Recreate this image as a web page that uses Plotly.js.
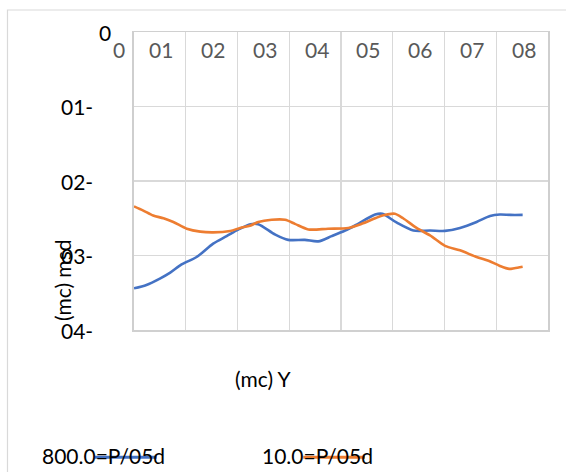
<!DOCTYPE html>
<html><head><meta charset="utf-8">
<script src="https://cdn.plot.ly/plotly-3.0.1.min.js"></script>
<style>html,body{margin:0;padding:0;background:#fff}#chart{width:566px;height:472px}</style>
</head><body><div id="chart"></div>
<script>
const xTickVals=[0,10,20,30,40,50,60,70,80];
const xTickText=["0","01","02","03","04","05","06","07","08"];
const yTickVals=[0,-10,-20,-30,-40];
const yTickText=["0","01-","02-","03-","04-"];
const xTitle="(mc) Y";
const yTitle="(mc) msd";
const seriesNames=["800.0=P/05d","10.0=P/05d"];
const blueX=[0,2.4,5.0,7.0,9.2,12.1,15.3,17.9,20.2,22.5,24.0,27.3,29.8,33.0,35.6,38.2,40.8,43.3,46.6,48.0,50.8,54.0,57.2,60.1,63.0,66.2,68.8,70.7,72.7,75.1];
const blueY=[-34.4,-33.95,-33.1,-32.3,-31.2,-30.2,-28.4,-27.4,-26.5,-25.8,-25.8,-27.2,-27.9,-27.9,-28.1,-27.4,-26.65,-25.75,-24.5,-24.4,-25.6,-26.65,-26.65,-26.7,-26.3,-25.5,-24.7,-24.5,-24.55,-24.55];
const orangeX=[0,1.8,3.7,5.7,7.6,10.2,12.8,15.3,18.6,20.5,22.4,24.0,26.6,29.2,31.1,33.7,37.5,41.4,44.0,46.6,48.2,50.4,52.0,54.6,57.2,60.1,63.0,66.2,68.5,70.7,72.5,73.5,75.1];
const orangeY=[-23.4,-23.97,-24.64,-25.0,-25.5,-26.4,-26.8,-26.9,-26.7,-26.3,-26.0,-25.5,-25.2,-25.2,-25.75,-26.5,-26.4,-26.3,-25.75,-25.0,-24.6,-24.4,-25.0,-26.3,-27.3,-28.7,-29.3,-30.2,-30.7,-31.4,-31.8,-31.7,-31.5];

const colors=['#4472C4','#ED7D31'];
const FONT='Lato, "Open Sans", sans-serif';
const FS=21;
// plot area in pixels
const L=134, R=548, T=32, B=330;
const px2x=p=>(p-L)/(R-L);
const px2y=p=>(B-p)/(B-T);

const traces=[
 {x:blueX,y:blueY,name:seriesNames[0],type:'scatter',mode:'lines',line:{color:colors[0],width:2.6,shape:'spline',smoothing:0.8},showlegend:false},
 {x:orangeX,y:orangeY,name:seriesNames[1],type:'scatter',mode:'lines',line:{color:colors[1],width:2.6,shape:'spline',smoothing:0.8},showlegend:false}
];

const ann=[];
xTickVals.forEach((v,i)=>{
  ann.push({xref:'x',yref:'paper',x: i===0? v : (xTickVals[i-1]+v)/2, xshift: i===0? -15 : 1.5,
    y:1,yshift:-17,yanchor:'middle',xanchor:'center',text:xTickText[i],showarrow:false,
    font:{family:FONT,size:FS,color:'#595959'}});
});
yTickVals.forEach((v,i)=>{
  ann.push({xref:'paper',yref:'y',x:0,xshift: i===0? -20.7 : -39.4, y:v, yanchor:'middle',xanchor:'right',
    text:yTickText[i],showarrow:false,font:{family:FONT,size:FS,color:'#000'}});
});
ann.push({xref:'paper',yref:'paper',x:px2x(263),y:px2y(378),xanchor:'center',yanchor:'middle',text:xTitle,showarrow:false,font:{family:FONT,size:FS,color:'#000'}});
ann.push({xref:'paper',yref:'paper',x:px2x(62),y:px2y(280),xanchor:'center',yanchor:'middle',textangle:-90,text:yTitle,showarrow:false,font:{family:FONT,size:FS,color:'#000'}});
const legX=[40,260];
const legLine=[[95,156.7],[303.3,365]];
seriesNames.forEach((n,i)=>{
  ann.push({xref:'paper',yref:'paper',x:px2x(legX[i]),y:px2y(455),xanchor:'left',yanchor:'middle',text:n,showarrow:false,font:{family:FONT,size:FS,color:'#000'}});
});
const shapes=[
 {type:'rect',xref:'paper',yref:'paper',x0:px2x(7.5),x1:px2x(580),y0:px2y(490),y1:px2y(10),line:{color:'#d9d9d9',width:1.2},fillcolor:'rgba(0,0,0,0)',layer:'below'}
];
seriesNames.forEach((n,i)=>{
  shapes.push({type:'line',xref:'paper',yref:'paper',x0:px2x(legLine[i][0]),x1:px2x(legLine[i][1]),y0:px2y(457.3),y1:px2y(457.3),line:{color:colors[i],width:3},layer:'above'});
});

const layout={
  width:566,height:472,
  margin:{l:L,r:566-R,t:T,b:472-B,pad:0},
  paper_bgcolor:'#fff',plot_bgcolor:'#fff',
  showlegend:false,
  xaxis:{side:'top',range:[0,80],tickvals:xTickVals,showticklabels:false,ticks:'',
    showgrid:true,gridcolor:'#d9d9d9',gridwidth:1.2,zeroline:false,showline:true,linecolor:'#d0d0d0',linewidth:1.5,mirror:true},
  yaxis:{range:[-40,0],tickvals:yTickVals,showticklabels:false,ticks:'',
    showgrid:true,gridcolor:'#d9d9d9',gridwidth:1.2,zeroline:false,showline:true,linecolor:'#cfcfcf',linewidth:2,mirror:true},
  annotations:ann,shapes:shapes
};
Plotly.newPlot('chart',traces,layout,{staticPlot:true,displayModeBar:false});
</script></body></html>
